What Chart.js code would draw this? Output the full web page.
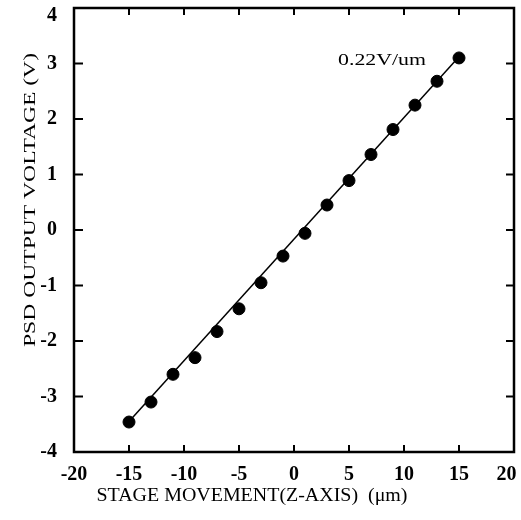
<!DOCTYPE html>
<html>
<head>
<meta charset="utf-8">
<script src="https://cdn.jsdelivr.net/npm/chart.js@4.4.0/dist/chart.umd.min.js"></script>
<style>
  html, body { margin: 0; padding: 0; background: #fff; }
  #wrap { width: 521px; height: 520px; }
</style>
</head>
<body>
<div id="wrap"><canvas id="psdChart" width="521" height="520"></canvas></div>
<script>
// stage movement (um) and PSD output voltage (V)
const stageX = [-15, -13, -11, -9, -7, -5, -3, -1, 1, 3, 5, 7, 9, 11, 13, 15];
const voltageY = [-3.46, -3.10, -2.60, -2.30, -1.83, -1.42, -0.95, -0.47, -0.06, 0.45, 0.89, 1.36, 1.81, 2.25, 2.68, 3.10];
// fitted line ends
const fitX = [-15, 15];
const fitY = [-3.45, 3.12];
const xTickValues = [-20, -15, -10, -5, 0, 5, 10, 15, 20];
const yTickValues = [-4, -3, -2, -1, 0, 1, 2, 3, 4];
const slopeLabel = '0.22V/um';

const points = stageX.map((x, i) => ({ x: x, y: voltageY[i] }));
const fitLine = fitX.map((x, i) => ({ x: x, y: fitY[i] }));

// draw text squeezed/stretched to a given width
const drawFitted = (ctx, text, cx, cy, width, font, rotate) => {
    ctx.save();
    ctx.font = font;
    ctx.fillStyle = '#000';
    ctx.textAlign = 'center';
    ctx.textBaseline = 'middle';
    const w = ctx.measureText(text).width;
    ctx.translate(cx, cy);
    if (rotate) ctx.rotate(-Math.PI / 2);
    ctx.scale(width / w, 1);
    ctx.fillText(text, 0, 0);
    ctx.restore();
};

const framePlugin = {
    id: 'frame',
    afterDraw(chart) {
        const ctx = chart.ctx;
        const a = chart.chartArea;
        const xs = chart.scales.x;
        const ys = chart.scales.y;
        ctx.save();
        ctx.strokeStyle = '#000';
        ctx.lineWidth = 2;
        xTickValues.forEach(v => {
            const px = xs.getPixelForValue(v);
            ctx.beginPath();
            ctx.moveTo(px, a.bottom); ctx.lineTo(px, a.bottom - 7);
            ctx.moveTo(px, a.top); ctx.lineTo(px, a.top + 7);
            ctx.stroke();
        });
        yTickValues.forEach(v => {
            const py = ys.getPixelForValue(v);
            ctx.beginPath();
            ctx.moveTo(a.left, py); ctx.lineTo(a.left + 9, py);
            ctx.moveTo(a.right, py); ctx.lineTo(a.right - 8, py);
            ctx.stroke();
        });
        ctx.lineWidth = 2.5;
        ctx.strokeRect(a.left, a.top, a.right - a.left, a.bottom - a.top);
        ctx.restore();

        drawFitted(ctx, slopeLabel, xs.getPixelForValue(8), ys.getPixelForValue(3.06), 88, '17px "Liberation Serif"');
        drawFitted(ctx, 'STAGE MOVEMENT(Z-AXIS)  (\u03bcm)', 252, 496, 311, '18px "Liberation Serif"');
        drawFitted(ctx, 'PSD OUTPUT VOLTAGE (V)', 31, 200, 294, '16px "Liberation Serif"', true);
    }
};

const tickFont = { family: '"Liberation Serif"', size: 20, weight: 'bold', lineHeight: 0.8 };

new Chart(document.getElementById('psdChart'), {
    type: 'scatter',
    data: {
        datasets: [
            {
                label: 'fit',
                data: fitLine,
                showLine: true,
                borderColor: '#000',
                borderWidth: 1.5,
                pointRadius: 0
            },
            {
                label: 'measured',
                data: points,
                backgroundColor: '#000',
                borderColor: '#000',
                pointRadius: 6,
                pointHoverRadius: 6
            }
        ]
    },
    options: {
        responsive: false,
        animation: false,
        layout: { padding: { top: 8, right: 6, left: 0, bottom: 0 } },
        plugins: { legend: { display: false }, tooltip: { enabled: false } },
        scales: {
            x: {
                type: 'linear',
                min: -20,
                max: 20,
                grid: { display: false, drawTicks: false },
                border: { display: false },
                afterBuildTicks: scale => { scale.ticks = xTickValues.map(v => ({ value: v })); },
                afterFit: scale => { scale.height = 68; scale.paddingLeft = 0; scale.paddingRight = 0; },
                ticks: {
                    color: '#000',
                    font: { family: '"Liberation Serif"', size: 20, weight: 'bold' },
                    padding: 11,
                    maxRotation: 0,
                    // last label is pulled in from the edge in the original
                    callback: v => (v === 20 ? '20   ' : String(v))
                }
            },
            y: {
                type: 'linear',
                min: -4,
                max: 4,
                grid: { display: false, drawTicks: false },
                border: { display: false },
                afterBuildTicks: scale => { scale.ticks = yTickValues.map(v => ({ value: v })); },
                afterFit: scale => { scale.width = 74; scale.paddingTop = 0; scale.paddingBottom = 0; },
                ticks: {
                    color: '#000',
                    font: tickFont,
                    padding: 17,
                    // top label sits a bit below its tick in the original
                    callback: v => (v === 4 ? ['', '4'] : String(v))
                }
            }
        }
    },
    plugins: [framePlugin]
});
</script>
</body>
</html>
